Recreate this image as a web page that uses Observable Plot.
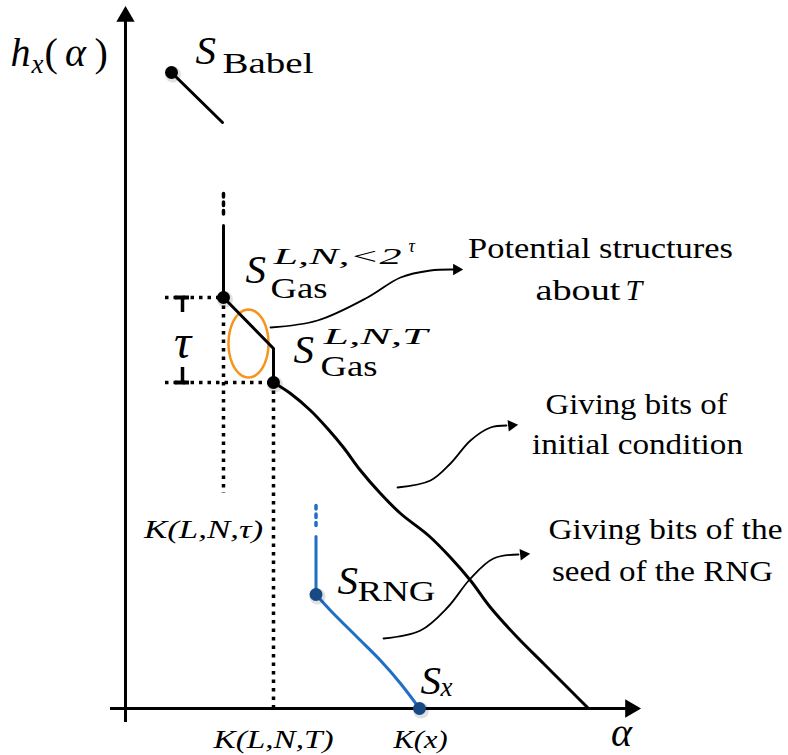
<!DOCTYPE html>
<html><head><meta charset="utf-8">
<script src="https://cdn.jsdelivr.net/npm/d3@7"></script>
<script src="https://cdn.jsdelivr.net/npm/@observablehq/plot@0.6"></script>
<style>body{margin:0;background:#fff}</style>
</head><body><div id="chart"></div>
<script>
// ---- data, in (alpha, h) units with the origin at the axes' crossing ----
const babelSeg = [{a:46,h:636},{a:97,h:586}];
const gasDotted = [{a:98,h:515},{a:98,h:490}];
const gasSolid = [{a:98,h:483},{a:98,h:411},{a:148,h:360},{a:148,h:326}];
const gasCurve = [
  {a:148,h:326},{a:165,h:315},{a:185,h:298},{a:202,h:280},{a:218,h:261},
  {a:235,h:238},{a:255,h:215},{a:275,h:195},{a:303,h:173},{a:325,h:151},
  {a:345,h:128},{a:365,h:101},{a:392,h:71},{a:418,h:45},{a:445,h:18},{a:463,h:0}];
const rngDotted = [{a:190.5,h:203},{a:190.5,h:183}];
const rngSolid = [{a:190.5,h:172},{a:190.5,h:114}];
const rngCurve = [{a:190.5,h:114},{a:205,h:98},{a:232,h:71},{a:255,h:48},{a:275,h:25},{a:294,h:0}];
const blackDots = [{a:46,h:636},{a:98,h:411},{a:148,h:326}];
const blueDots = [{a:190.5,h:114},{a:294,h:0}];
const guidesH = [{h:411,a1:40,a2:98},{h:326,a1:40,a2:148}];
const guidesV = [{a:98,h1:411,h2:215},{a:148,h1:326,h2:0}];
const tauBracket = {a:57, top:411, bottom:326};
const ellipse = {a:123, h:365, ra:20, rh:34};
const arrow1 = [{a:145,h:381},{a:192,h:388},{a:242,h:411},{a:275,h:431},{a:305,h:438},{a:328,h:439}];
const arrow2 = [{a:272,h:221},{a:305,h:228},{a:325,h:245},{a:345,h:268},{a:365,h:281},{a:381,h:283}];
const arrow3 = [{a:258,h:70},{a:295,h:78},{a:322,h:101},{a:345,h:130},{a:368,h:150},{a:393,h:154}];
const arrowTips = [{a:331,h:439,rot:90},{a:386,h:283,rot:84},{a:398,h:154,rot:84}];

// ---- labels (anchors in the same units) ----
const bigS = [{a:70,h:645},{a:120,h:426},{a:168,h:346},{a:212,h:115},{a:295,h:15}];
const romanSub = [{a:97,h:636,t:"Babel"},{a:145,h:411,t:"Gas"},{a:195,h:333,t:"Gas"},{a:232,h:108,t:"RNG"}];
const italicSub = [{a:315,h:13,t:"x"},{a:-94,h:636,t:"x"}];
const supers = [{a:148,h:445,t:"L,N,<2"},{a:198,h:365,t:"L,N,T"}];
const supSup = [{a:283,h:457,t:"τ"}];
const axisMath = [{a:-115,h:643,t:"h"}];
const alphaLabels = [{a:-50,h:643},{a:496,h:-37}];
const axisParen = [{a:-81,h:643,t:"("},{a:-31,h:643,t:")"}];
const kLabels = [{a:148,h:-39,t:"K(L,N,T)"},{a:295,h:-39,t:"K(x)"},{a:78,h:171,t:"K(L,N,τ)"}];
const prose = [
  {a:475,h:451,t:"Potential structures"},
  {a:511,h:295,t:"Giving bits of"},{a:512,h:255,t:"initial condition"},
  {a:540,h:170,t:"Giving bits of the"},{a:537,h:128,t:"seed of the RNG"}];
const aboutT = [{a:495,h:409,t:"about"}];
const aboutTItalic = [{a:500,h:409,t:"T"}];
// rendered widths of the labels in the reference (Computer Modern is wider than the available serif)
const labelWidths = new Map([
  ["Potential structures",265],["Giving bits of",182],["initial condition",211],
  ["Giving bits of the",234],["seed of the RNG",221],["about",85],
  ["K(L,N,T)",120],["K(x)",54],["K(L,N,τ)",119],
  ["Babel",91],["Gas",57],["RNG",78],["L,N,<2",128],["L,N,T",104]]);

const ellipsePts = d3.range(0, 361, 6).map(d => ({
  a: ellipse.a + ellipse.ra*Math.cos(d*Math.PI/180),
  h: ellipse.h + ellipse.rh*Math.sin(d*Math.PI/180)}));

const SERIF = "'Liberation Serif', 'DejaVu Serif', 'Noto Serif', serif";
const LW = 3;
const T = (data, o) => Plot.text(data, {x:"a", y:"h", text:"t", fontFamily:SERIF, textAnchor:"start", lineAnchor:"bottom", ...o});

const chart = Plot.plot({
  width: 788, height: 755, margin: 0,
  x: {domain:[-125,663], range:[0,788], axis:null},
  y: {domain:[-47,708], range:[755,0], axis:null},
  marks: [
    // axes
    Plot.ruleX([0], {y1:-14, y2:690, strokeWidth:LW}),
    Plot.ruleY([0], {x1:-15, x2:505, strokeWidth:LW}),
    Plot.dot([{a:0,h:692,rot:0},{a:505,h:0,rot:90}], {x:"a", y:"h", symbol:"triangle", r:6.8, fill:"black", rotate:"rot"}),
    // dotted guides
    Plot.ruleY(guidesH, {y:"h", x1:"a1", x2:"a2", strokeWidth:3.5, strokeDasharray:"3.5,5"}),
    Plot.ruleX(guidesV, {x:"a", y1:"h1", y2:"h2", strokeWidth:3.5, strokeDasharray:"3.5,5"}),
    // tau bracket
    Plot.ruleY([tauBracket.top, tauBracket.bottom], {x1:tauBracket.a-7, x2:tauBracket.a+7, strokeWidth:4}),
    Plot.ruleX([tauBracket.a], {y1:tauBracket.top, y2:tauBracket.top-15, strokeWidth:3.5}),
    Plot.ruleX([tauBracket.a], {y1:tauBracket.bottom+15, y2:tauBracket.bottom, strokeWidth:3.5}),
    // ellipse
    Plot.line(ellipsePts, {x:"a", y:"h", stroke:"#f7941d", strokeWidth:2.5}),
    // S_Babel
    Plot.line(babelSeg, {x:"a", y:"h", strokeWidth:LW}),
    // Gas
    Plot.line(gasDotted, {x:"a", y:"h", strokeWidth:3.5, strokeDasharray:"3.5,5"}),
    Plot.line(gasSolid, {x:"a", y:"h", strokeWidth:LW}),
    Plot.line(gasCurve, {x:"a", y:"h", strokeWidth:LW, curve:"catmull-rom"}),
    // RNG
    Plot.line(rngDotted, {x:"a", y:"h", stroke:"#1f6fc5", strokeWidth:3.5, strokeDasharray:"3.5,5"}),
    Plot.line(rngSolid, {x:"a", y:"h", stroke:"#1f6fc5", strokeWidth:LW}),
    Plot.line(rngCurve, {x:"a", y:"h", stroke:"#1f6fc5", strokeWidth:LW, curve:"catmull-rom"}),
    // annotation arrows
    Plot.line(arrow1, {x:"a", y:"h", strokeWidth:1.8, curve:"catmull-rom"}),
    Plot.line(arrow2, {x:"a", y:"h", strokeWidth:1.8, curve:"catmull-rom"}),
    Plot.line(arrow3, {x:"a", y:"h", strokeWidth:1.8, curve:"catmull-rom"}),
    Plot.dot(arrowTips, {x:"a", y:"h", symbol:"triangle", r:4.3, fill:"black", rotate:"rot"}),
    // dots with soft shadow
    Plot.dot(blackDots.concat(blueDots), {x:"a", y:"h", r:8, fill:"#000", fillOpacity:0.12, dx:1.5, dy:2}),
    Plot.dot(blackDots, {x:"a", y:"h", r:6.5, fill:"black"}),
    Plot.dot(blueDots, {x:"a", y:"h", r:6.5, fill:"#174a83"}),
    // labels
    T(bigS, {text:()=>"S", fontSize:41, fontStyle:"italic"}),
    T(romanSub, {fontSize:30}),
    T(italicSub, {fontSize:27, fontStyle:"italic"}),
    T(supers, {fontSize:24, fontStyle:"italic"}),
    T(supSup, {fontSize:18, fontStyle:"italic"}),
    T(axisMath, {fontSize:40, fontStyle:"italic"}),
    T(alphaLabels, {text:()=>"α", fontSize:40, fontStyle:"italic", textAnchor:"middle"}),
    T(axisParen, {fontSize:40}),
    T([{a:tauBracket.a, h:351}], {text:()=>"τ", fontSize:48, fontStyle:"italic", textAnchor:"middle"}),
    T(kLabels, {fontSize:25, fontStyle:"italic", textAnchor:"middle"}),
    T(prose, {fontSize:30, textAnchor:"middle"}),
    T(aboutT, {fontSize:30, textAnchor:"end"}),
    T(aboutTItalic, {fontSize:30, fontStyle:"italic"})
  ]
});
document.getElementById("chart").appendChild(chart);
d3.select(chart).selectAll("text").each(function() {
  const w = labelWidths.get(this.textContent);
  if (w) { this.setAttribute("textLength", w); this.setAttribute("lengthAdjust", "spacingAndGlyphs"); }
});
</script>
</body></html>
